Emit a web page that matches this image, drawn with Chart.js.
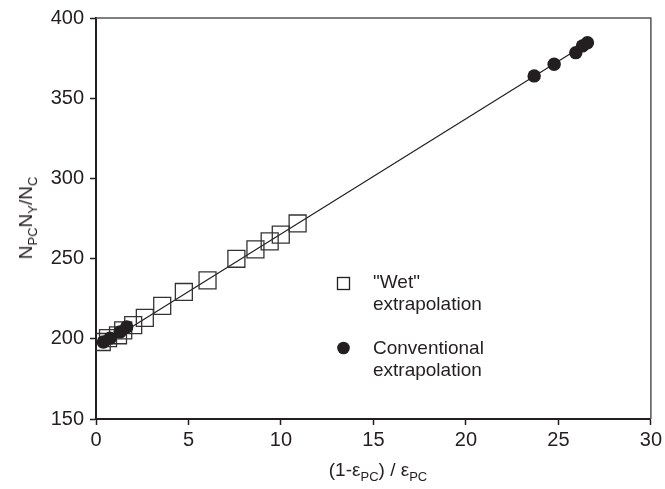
<!DOCTYPE html>
<html>
<head>
<meta charset="utf-8">
<script src="https://cdn.jsdelivr.net/npm/chart.js@4.4.1/dist/chart.umd.min.js"></script>
<style>
  html, body { margin: 0; padding: 0; background: #fff; }
  #wrap { position: relative; width: 665px; height: 489px; font-family: "Liberation Sans", Arial, sans-serif; color: #231f20; }
  #chart { position: absolute; left: 0; top: 0; }
  .lbl { position: absolute; font-size: 19px; line-height: 22px; white-space: nowrap; }
  .lbl sub { font-size: 13px; vertical-align: -5px; line-height: 0; }
  #ytitle { left: 26px; top: 218px; transform: translate(-50%, -50%) rotate(-90deg); }
  #xtitle { left: 378px; top: 470px; transform: translate(-50%, -50%); }
</style>
</head>
<body>
<div id="wrap">
  <canvas id="chart" width="665" height="489"></canvas>
  <div class="lbl" id="ytitle">N<sub>PC</sub>N<sub>Y</sub>/N<sub>C</sub></div>
  <div class="lbl" id="xtitle">(1-ε<sub>PC</sub>) / ε<sub>PC</sub></div>
  <div class="lbl" style="left:373px;top:271px">"Wet"</div>
  <div class="lbl" style="left:373px;top:293px">extrapolation</div>
  <div class="lbl" style="left:373px;top:337px">Conventional</div>
  <div class="lbl" style="left:373px;top:359px">extrapolation</div>
</div>
<script>
// values
const wetX = [0.31, 0.65, 1.19, 1.47, 2.01, 2.64, 3.58, 4.75, 6.03, 7.59, 8.62, 9.39, 9.99, 10.9];
const wetY = [198, 200.4, 202.2, 205.3, 208.5, 213, 220.5, 229.2, 236.4, 249.9, 255.7, 260.7, 264.9, 271.9];

const convX = [0.4, 0.76, 1.3, 1.66, 23.69, 24.77, 25.94, 26.3, 26.57];
const convY = [198, 200.4, 204.3, 207.4, 363.9, 371.2, 378.4, 382.6, 384.6];

// fitted straight line, ends as drawn
const fitX = [0.3, 26.6];
const fitY = [195.7, 384.5];

const xTicks = [0, 5, 10, 15, 20, 25, 30];
const yTicks = [150, 200, 250, 300, 350, 400];

const ink = "#231f20";
const toPts = (xs, ys) => xs.map((x, i) => ({ x: x, y: ys[i] }));

/* frame on top and right, plus legend markers */
const extras = {
    id: "extras",
    afterDraw(chart) {
        const ctx = chart.ctx;
        const a = chart.chartArea;
        ctx.save();
        ctx.strokeStyle = "#555";
        ctx.lineWidth = 1.5;
        ctx.beginPath();
        ctx.moveTo(a.left, a.top);
        ctx.lineTo(a.right, a.top);
        ctx.lineTo(a.right, a.bottom);
        ctx.stroke();

        // legend square
        ctx.strokeStyle = ink;
        ctx.lineWidth = 1.3;
        ctx.strokeRect(337.5, 277.5, 12, 12);
        // legend dot
        ctx.fillStyle = ink;
        ctx.beginPath();
        ctx.arc(343.5, 348, 6.3, 0, Math.PI * 2);
        ctx.fill();
        ctx.restore();
    }
};

new Chart(document.getElementById("chart"), {
    type: "scatter",
    data: {
        datasets: [
            {
                label: "Conventional extrapolation",
                data: toPts(convX, convY),
                pointStyle: "circle",
                pointRadius: 6.7,
                backgroundColor: ink,
                borderColor: ink,
                borderWidth: 0
            },
            {
                label: "\"Wet\" extrapolation",
                data: toPts(wetX, wetY),
                pointStyle: "rect",
                pointRadius: 12,
                backgroundColor: "rgba(255,255,255,0)",
                borderColor: "#333",
                borderWidth: 1.3
            },
            {
                label: "fit",
                data: toPts(fitX, fitY),
                showLine: true,
                pointRadius: 0,
                borderColor: ink,
                borderWidth: 1.2,
                fill: false
            }
        ]
    },
    options: {
        responsive: false,
        animation: false,
        layout: { padding: { top: 17, right: 13, left: 0, bottom: 0 } },
        plugins: { legend: { display: false }, tooltip: { enabled: false } },
        scales: {
            x: {
                type: "linear",
                min: 0,
                max: 30,
                afterBuildTicks: s => { s.ticks = xTicks.map(v => ({ value: v })); },
                afterFit: s => { s.height = 70; },
                ticks: { color: ink, padding: 3, font: { family: "'Liberation Sans', Arial", size: 20 } },
                grid: { drawOnChartArea: false, drawTicks: true, tickLength: 6, tickColor: ink, tickWidth: 1.5 },
                border: { color: ink, width: 2 }
            },
            y: {
                type: "linear",
                min: 150,
                max: 400,
                afterBuildTicks: s => { s.ticks = yTicks.map(v => ({ value: v })); },
                afterFit: s => { s.width = 96; },
                ticks: { color: ink, padding: 6, font: { family: "'Liberation Sans', Arial", size: 20 } },
                grid: { drawOnChartArea: false, drawTicks: true, tickLength: 6, tickColor: ink, tickWidth: 1.5 },
                border: { color: ink, width: 2 }
            }
        }
    },
    plugins: [extras]
});
</script>
</body>
</html>
